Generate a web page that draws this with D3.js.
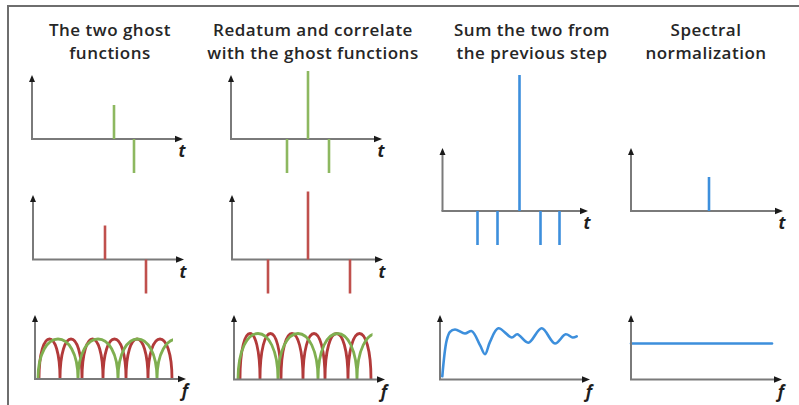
<!DOCTYPE html>
<html>
<head>
<meta charset="utf-8">
<script src="https://cdn.jsdelivr.net/npm/d3@7"></script>
<style>
  html, body { margin: 0; padding: 0; background: #fff; }
  svg { display: block; }
  .title { font-family: "Open Sans", sans-serif; font-size: 17px; font-weight: 600; letter-spacing: 0.5px; fill: #262626; }
  .axlab { font-family: "Open Sans", sans-serif; font-size: 17px; font-style: italic; font-weight: 700; fill: #1e1e1e; }
</style>
</head>
<body>
<svg id="chart" width="799" height="405"></svg>
<script>
// ---- column headings ----
const titleLines = [
  ["The two ghost", "functions"],
  ["Redatum and correlate", "with the ghost functions"],
  ["Sum the two from", "the previous step"],
  ["Spectral", "normalization"]
];

// ---- time-domain spikes (time, amplitude) ----
const greenGhostTimes = [82, 102];
const greenGhostAmps  = [1, -1];
const redGhostTimes   = [72, 113];
const redGhostAmps    = [1, -1];
const greenCorrTimes  = [56, 77, 98];
const greenCorrAmps   = [-1, 2, -1];
const redCorrTimes    = [36, 76, 118];
const redCorrAmps     = [-1, 2, -1];
const sumTimes        = [35, 55, 77, 98, 117];
const sumAmps         = [-1, -1, 4, -1, -1];
const normTimes       = [78];
const normAmps        = [1];

// ---- amplitude spectra: notch frequencies and arch heights ----
const redGhostNotches   = [4, 25, 47, 68, 91, 113, 137];
const greenGhostNotches = [3, 43, 83, 122, 162];
const greenGhostEnd     = 138;
const ghostArchHeight   = 1.0;
const redCorrNotches    = [6, 26, 47, 69, 91, 114, 137];
const greenCorrNotches  = [4, 44, 84, 123, 163];
const greenCorrEnd      = 138.5;
const corrArchHeight    = 1.15;

// summed spectrum samples (frequency, amplitude)
const sumSpecFreq = [2.3, 6.7, 10, 15, 25, 31.7, 40, 45, 50, 58.3, 71.7, 77.3, 88.3, 101.7, 115, 125.7, 132.7, 136.7];
const sumSpecAmp  = [0.08, 0.98, 1.19, 1.25, 1.15, 1.21, 0.86, 0.63, 0.94, 1.28, 1.05, 1.13, 0.92, 1.28, 0.9, 1.13, 1.05, 1.08];

// flat spectrum after normalization
const normSpecFreq = [0, 141];
const normSpecAmp  = [0.9, 0.9];

// ---- colours ----
const GREEN = "#8db860", RED = "#c0504d", BLUE = "#3d8fdc";
const GREEN_SPEC = "#7faf50", RED_SPEC = "#b23a3a";

const svg = d3.select("#chart");

// outer frame (top and left edges)
svg.append("path")
  .attr("d", "M8,405 L8,6 L799,6")
  .attr("fill", "none").attr("stroke", "#6e6e6e").attr("stroke-width", 2);

// headings, one text element per line
const titleCenters = [110, 313, 532, 706];
titleLines.forEach((lines, i) => {
  lines.forEach((ln, j) => {
    svg.append("text").attr("class", "title").attr("text-anchor", "middle")
      .attr("x", titleCenters[i]).attr("y", j === 0 ? 35.5 : 59.3).text(ln);
  });
});

// panel: origin (x0,y0), arrow top and tip, scales
function panel(x0, y0, top, tip, label, ymax) {
  const g = svg.append("g");
  const x = d3.scaleLinear().domain([0, 150]).range([x0, x0 + 150]);
  const y = d3.scaleLinear().domain([0, ymax]).range([y0, y0 - ymax * (label === "t" ? 34 : 40)]);
  return { g, x, y, x0, y0, top, tip, label };
}

function drawAxes(p) {
  const g = p.g.append("g");
  g.append("line").attr("x1", p.x0).attr("y1", p.y0).attr("x2", p.x0).attr("y2", p.top + 5)
    .attr("stroke", "#7a7a7a").attr("stroke-width", 2);
  g.append("line").attr("x1", p.x0 - 1).attr("y1", p.y0).attr("x2", p.tip - 6).attr("y2", p.y0)
    .attr("stroke", "#7a7a7a").attr("stroke-width", 2);
  g.append("path")
    .attr("d", `M${p.x0},${p.top} L${p.x0 - 3},${p.top + 7} L${p.x0 + 3},${p.top + 7} Z`)
    .attr("fill", "#1a1a1a");
  g.append("path")
    .attr("d", `M${p.tip},${p.y0} L${p.tip - 8},${p.y0 - 3.2} L${p.tip - 8},${p.y0 + 3.2} Z`)
    .attr("fill", "#1a1a1a");
  g.append("text").attr("class", "axlab").attr("text-anchor", "middle")
    .attr("x", p.tip - 1).attr("y", p.y0 + 18).text(p.label);
}

function drawSpikes(p, times, amps, color) {
  const data = times.map((t, i) => ({ t, a: amps[i] }));
  p.g.selectAll("line.spike").data(data).join("line")
    .attr("class", "spike")
    .attr("x1", d => p.x(d.t)).attr("x2", d => p.x(d.t))
    .attr("y1", p.y(0)).attr("y2", d => p.y(d.a))
    .attr("stroke", color).attr("stroke-width", 2.6);
}

// arches between successive notches
function archPath(p, notches, h) {
  const path = d3.path();
  const c = h / 0.75;
  for (let i = 0; i < notches.length - 1; i++) {
    const a = p.x(notches[i]), b = p.x(notches[i + 1]);
    path.moveTo(a, p.y(0));
    path.bezierCurveTo(a, p.y(c), b, p.y(c), b, p.y(0));
  }
  return path.toString();
}

let clipId = 0;
function drawArches(p, notches, h, color, end) {
  const sel = p.g.append("path")
    .attr("d", archPath(p, notches, h))
    .attr("fill", "none").attr("stroke", color).attr("stroke-width", 2.8)
    .attr("stroke-linejoin", "round");
  if (end !== undefined) {
    const id = "clip" + (clipId++);
    svg.append("clipPath").attr("id", id).append("rect")
      .attr("x", p.x0 - 5).attr("y", p.top - 10)
      .attr("width", p.x(end) - p.x0 + 5).attr("height", p.y0 - p.top + 12);
    sel.attr("clip-path", `url(#${id})`);
  }
}

function drawCurve(p, freqs, amps, color, curve) {
  const pts = freqs.map((f, i) => [f, amps[i]]);
  p.g.append("path")
    .attr("d", d3.line().x(d => p.x(d[0])).y(d => p.y(d[1])).curve(curve)(pts))
    .attr("fill", "none").attr("stroke", color).attr("stroke-width", 2.6)
    .attr("stroke-linecap", "round");
}

// ---- time-domain panels ----
const p1 = panel(32, 139, 75, 183, "t", 2);
drawAxes(p1); drawSpikes(p1, greenGhostTimes, greenGhostAmps, GREEN);

const p2 = panel(231, 139, 75, 382, "t", 2);
drawAxes(p2); drawSpikes(p2, greenCorrTimes, greenCorrAmps, GREEN);

const p3 = panel(33, 259.5, 195, 184, "t", 2);
drawAxes(p3); drawSpikes(p3, redGhostTimes, redGhostAmps, RED);

const p4 = panel(232, 259.5, 195, 383, "t", 2);
drawAxes(p4); drawSpikes(p4, redCorrTimes, redCorrAmps, RED);

const p5 = panel(442.5, 211, 148, 588, "t", 4);
drawAxes(p5); drawSpikes(p5, sumTimes, sumAmps, BLUE);

const p6 = panel(631, 211, 148, 783, "t", 2);
drawAxes(p6); drawSpikes(p6, normTimes, normAmps, BLUE);

// ---- frequency-domain panels ----
const s1 = panel(35, 379, 315, 186, "f", 1.6);
drawArches(s1, redGhostNotches, ghostArchHeight, RED_SPEC);
drawArches(s1, greenGhostNotches, ghostArchHeight, GREEN_SPEC, greenGhostEnd);
drawAxes(s1);

const s2 = panel(234, 379.5, 315, 385, "f", 1.6);
drawArches(s2, redCorrNotches, corrArchHeight, RED_SPEC);
drawArches(s2, greenCorrNotches, corrArchHeight, GREEN_SPEC, greenCorrEnd);
drawAxes(s2);

const s3 = panel(440, 379.5, 315, 590, "f", 1.6);
drawCurve(s3, sumSpecFreq, sumSpecAmp, BLUE, d3.curveCatmullRom.alpha(0.5));
drawAxes(s3);

const s4 = panel(631, 379.5, 315, 782, "f", 1.6);
drawCurve(s4, normSpecFreq, normSpecAmp, BLUE, d3.curveLinear);
drawAxes(s4);
</script>
</body>
</html>
